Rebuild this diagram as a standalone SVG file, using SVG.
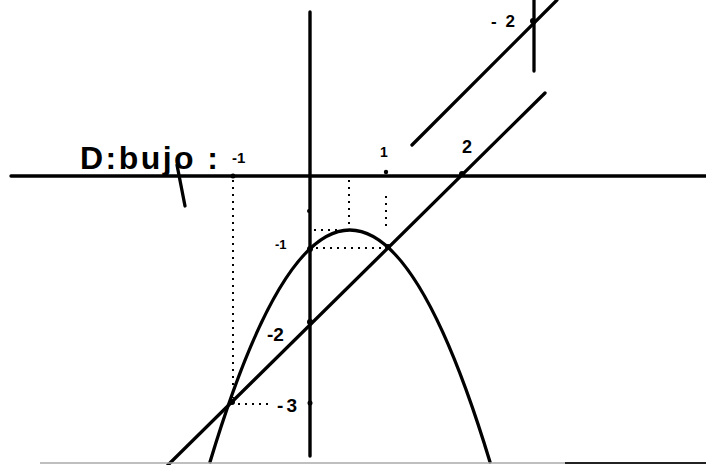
<svg xmlns="http://www.w3.org/2000/svg" width="706" height="465" viewBox="0 0 706 465">
<style>
.ln{fill:none;stroke:#000;stroke-width:3.3;stroke-linecap:round;stroke-linejoin:round}
.ax{fill:none;stroke:#000;stroke-width:3.4;stroke-linecap:round}
.dt{fill:none;stroke:#000;stroke-width:2;stroke-dasharray:2 5}
.lb{font-family:"Liberation Sans",Arial,sans-serif;font-weight:bold;fill:#000}
.hw{font-family:"Liberation Sans",Arial,sans-serif;font-weight:bold;fill:#000}
.tk{fill:#000}
</style>
<rect width="706" height="465" fill="#fff"/>
<g id="axes">
<line class="ax" x1="11" y1="176" x2="706" y2="176"/>
<line class="ax" x1="310" y1="12" x2="310" y2="456"/>
</g>
<g id="curves">
<path id="parabola" class="ln" d="M210,462 Q349.5,-2 490,462"/>
<line id="line-low" class="ln" x1="168" y1="465" x2="545" y2="93"/>
<line id="line-high" class="ln" x1="412" y1="145" x2="557" y2="0"/>
<line id="short-vertical" class="ln" x1="534" y1="0" x2="534" y2="71"/>
</g>
<g id="connectors">
<line class="dt" x1="233" y1="180" x2="233" y2="398"/>
<line class="dt" x1="238" y1="404" x2="272" y2="404"/>
<line class="dt" x1="349" y1="180" x2="349" y2="228"/>
<line class="dt" x1="314" y1="230" x2="346" y2="230"/>
<line class="dt" x1="386" y1="196" x2="386" y2="226"/>
<line class="dt" x1="316" y1="248" x2="384" y2="248"/>
</g>
<g id="ticks">
<circle class="tk" cx="386" cy="172" r="2.2"/>
<circle class="tk" cx="233" cy="176" r="2.5"/>
<circle class="tk" cx="462" cy="174" r="3"/>
<circle class="tk" cx="310" cy="403" r="2.5"/>
<circle class="tk" cx="310" cy="322" r="3"/>
<circle class="tk" cx="310" cy="249" r="3"/>
<circle class="tk" cx="388" cy="247" r="3"/>
<circle class="tk" cx="232" cy="402" r="3"/>
<circle class="tk" cx="533" cy="21" r="3"/>
<circle class="tk" cx="309" cy="211" r="2"/>
</g>
<g id="title">
<text class="hw" x="80" y="169" font-size="32" textLength="138" lengthAdjust="spacing">D:bujo :</text>
<line class="ln" x1="177" y1="165" x2="185" y2="206"/>
</g>
<g id="labels">
<text class="lb" x="232" y="163" font-size="15">-1</text>
<text class="lb" x="380" y="157" font-size="14">1</text>
<text class="lb" x="462" y="153" font-size="18">2</text>
<text class="lb" x="491" y="27" font-size="17" textLength="24" lengthAdjust="spacing">-2</text>
<text class="lb" x="275" y="249" font-size="13">-1</text>
<text class="lb" x="267" y="341" font-size="19">-2</text>
<text class="lb" x="277" y="412" font-size="19" textLength="20" lengthAdjust="spacing">-3</text>
</g>
<g id="border">
<line x1="40" y1="463" x2="565" y2="463" stroke="#aaa" stroke-width="1.5"/>
<line x1="565" y1="463" x2="706" y2="463" stroke="#222" stroke-width="2"/>
</g>
</svg>
